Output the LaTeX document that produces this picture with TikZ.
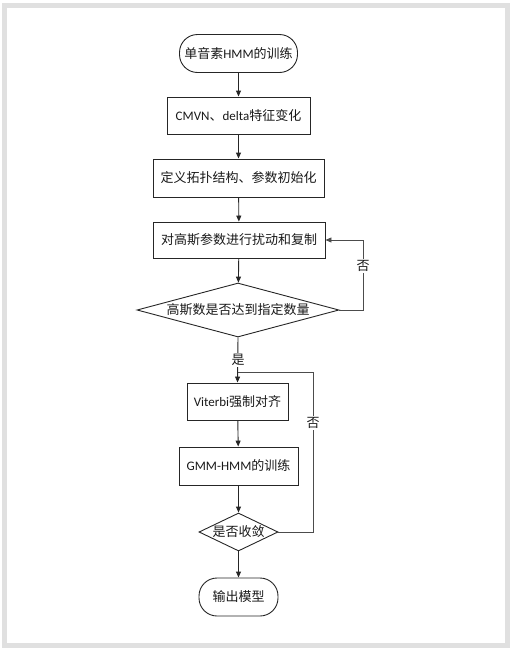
\documentclass[tikz,border=0pt]{standalone}
\usepackage{fontspec}
\setmainfont{Noto Sans CJK SC}
\newfontfamily\latf{Carlito}
\newcommand\lt[1]{{\latf #1}}
\usetikzlibrary{shapes.geometric,arrows.meta}
\tikzset{
  base/.style={draw=black!85, line width=0.9pt, inner sep=0pt, font=\fontsize{13}{15}\selectfont, text=black!90},
  boxn/.style={base, rectangle},
  term/.style={base, rectangle, rounded corners=18pt},
  dia/.style={base, diamond},
  lbl/.style={inner sep=1pt, fill=white, font=\fontsize{13}{15}\selectfont, text=black!90},
  arr/.style={draw=black!85, line width=0.9pt, -{Triangle[length=6pt,width=5pt]}},
  ln/.style={draw=black!70, line width=0.9pt},
  arrl/.style={ln, -{Triangle[length=6pt,width=5pt]}}
}
\begin{document}
\begin{tikzpicture}[x=1pt,y=-1pt]
\useasboundingbox (0,0) rectangle (513,648);
\draw[line width=5pt, draw=black!12] (4.5,5.5) rectangle (507.5,645.5);

\node[term, minimum width=118pt, minimum height=38pt] (s) at (238.5,53.5) {单音素\lt{HMM}的训练};
\node[boxn, minimum width=143pt, minimum height=37pt] (b1) at (238.5,115.5) {\lt{CMVN}、\lt{delta}特征变化};
\node[boxn, minimum width=171pt, minimum height=38pt] (b2) at (238.5,178) {定义拓扑结构、参数初始化};
\node[boxn, minimum width=172pt, minimum height=36pt] (b3) at (239,240) {对高斯参数进行扰动和复制};
\node[dia, minimum width=202pt, minimum height=54pt] (d1) at (238,310) {\makebox[0pt]{高斯数是否达到指定数量}};
\node[boxn, minimum width=101pt, minimum height=37pt] (v) at (237.5,401.5) {\lt{Viterbi}强制对齐};
\node[boxn, minimum width=119pt, minimum height=38pt] (g) at (238.5,466) {\lt{GMM-HMM}的训练};
\node[dia, minimum width=79pt, minimum height=38pt] (d2) at (238.5,532) {\makebox[0pt]{是否收敛}};
\node[term, minimum width=79pt, minimum height=38pt] (e) at (238.5,597) {输出模型};

\coordinate (r1) at (363,310);
\coordinate (r2) at (313,532);
\coordinate (j) at (238,372);

\draw[arr] (s) -- (b1);
\draw[arr] (b1) -- (b2);
\draw[arr] (b2) -- (b3);
\draw[arr] (b3) -- (d1);
\draw[arr] (d1.south) -- (v.north);
\node[lbl] (yes) at (238,360) {是};
\draw[arrl] (d1.east) -- (r1) |- (b3.east);
\node[lbl] (no1) at (363,266) {否};
\draw[arr] (v) -- (g);
\draw[arr] (g) -- (d2);
\draw[arr] (d2) -- (e);
\draw[ln] (d2.east) -- (r2) |- (j);
\node[lbl] (no2) at (313,423) {否};
\end{tikzpicture}
\end{document}
